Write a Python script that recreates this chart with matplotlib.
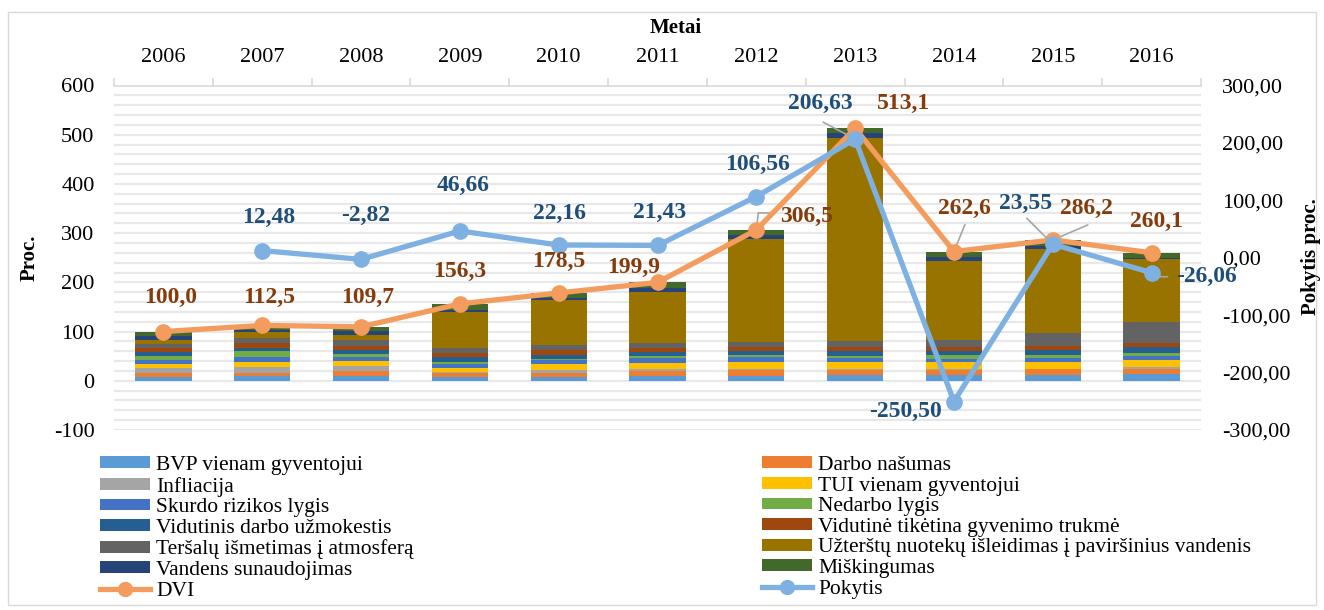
import matplotlib
matplotlib.use("Agg")
import matplotlib.pyplot as plt
import numpy as np
from matplotlib.patches import Rectangle, Patch
from matplotlib.lines import Line2D
from matplotlib.transforms import offset_copy

plt.rcParams['font.family'] = ['Liberation Serif', 'DejaVu Serif']

# ---------------- data ----------------
years = ['2006', '2007', '2008', '2009', '2010', '2011', '2012', '2013', '2014', '2015', '2016']

bvp      = [8.33, 8.8, 9.5, 7.5, 8.2, 10.2, 10.2, 11.6, 10.9, 12.2, 12.9]
darbo    = [8.33, 6.8, 9.5, 8.8, 8.2, 8.8, 10.9, 9.5, 11.6, 10.9, 10.9]
inflia   = [8.33, 11.6, 10.9, 1.5, 6.1, 5.4, 3.4, 2.0, 1.5, 1.0, 4.1]
tui      = [8.33, 11.6, 10.2, 8.8, 10.9, 12.2, 13.6, 15.0, 13.6, 15.0, 15.0]
skurdo   = [8.33, 8.8, 7.5, 8.2, 8.2, 8.8, 9.5, 8.2, 7.5, 6.8, 7.5]
nedarbo  = [8.33, 12.2, 6.8, 3.4, 3.4, 4.1, 4.8, 4.1, 6.8, 6.8, 6.8]
vdu      = [8.33, 7.5, 8.8, 9.5, 8.2, 8.2, 7.5, 9.5, 8.8, 10.2, 10.9]
gyv      = [8.33, 9.5, 8.2, 8.2, 9.5, 8.2, 8.8, 8.8, 8.2, 8.2, 8.2]
tersalu  = [8.33, 9.5, 10.9, 10.2, 10.2, 10.9, 10.9, 11.6, 13.6, 25.9, 43.5]
nuotek   = [8.33, 12.6, 11.1, 74.6, 90.7, 104.1, 207.8, 413.8, 161.7, 170.4, 127.7]
vandens  = [8.33, 4.8, 6.8, 4.0, 5.4, 6.8, 8.2, 8.8, 8.2, 6.8, 1.0]
misk     = [8.33, 8.8, 9.5, 11.6, 9.5, 12.2, 10.9, 10.2, 10.2, 12.0, 11.6]

dvi      = [100.0, 112.5, 109.7, 156.3, 178.5, 199.9, 306.5, 513.1, 262.6, 286.2, 260.1]
dvi_lbl  = ['100,0', '112,5', '109,7', '156,3', '178,5', '199,9', '306,5', '513,1', '262,6', '286,2', '260,1']
pok_x    = [1, 2, 3, 4, 5, 6, 7, 8, 9, 10]
pokytis  = [12.48, -2.82, 46.66, 22.16, 21.43, 106.56, 206.63, -250.50, 23.55, -26.06]
pok_lbl  = ['12,48', '-2,82', '46,66', '22,16', '21,43', '106,56', '206,63', '-250,50', '23,55', '-26,06']

series_names = ['BVP vienam gyventojui', 'Darbo našumas', 'Infliacija', 'TUI vienam gyventojui',
                'Skurdo rizikos lygis', 'Nedarbo lygis', 'Vidutinis darbo užmokestis',
                'Vidutinė tikėtina gyvenimo trukmė', 'Teršalų išmetimas į atmosferą',
                'Užterštų nuotekų išleidimas į paviršinius vandenis', 'Vandens sunaudojimas', 'Miškingumas']
series_vals = [bvp, darbo, inflia, tui, skurdo, nedarbo, vdu, gyv, tersalu, nuotek, vandens, misk]
series_cols = ['#5B9BD5', '#ED7D31', '#A5A5A5', '#FFC000', '#4472C4', '#70AD47', '#255E91',
               '#9E480E', '#636363', '#997300', '#264478', '#43682B']

DVI_COL = '#F39C5E'
POK_COL = '#7EB1E1'
DVI_TXT = '#843C0C'
POK_TXT = '#1F4E79'
LEAD = '#A6A6A6'

# ---------------- figure ----------------
W, H = 1324, 610
fig = plt.figure(figsize=(W / 100, H / 100), dpi=100)
fig.patches.append(Rectangle((8 / W, 1 - 605 / H), (1316 - 8) / W, (605 - 12) / H,
                             transform=fig.transFigure, fill=False, edgecolor='#D9D9D9', lw=1.0))

x0, x1, yt, yb = 114, 1201, 85.5, 430
ax = fig.add_axes([x0 / W, 1 - yb / H, (x1 - x0) / W, (yb - yt) / H])
ax.set_xlim(-0.5, 10.5)
ax.set_ylim(-100, 600)

for v in range(-100, 600, 20):
    ax.axhline(v, color='#E8E8E8', lw=1.6, zorder=0)

x = np.arange(len(years))
bottom = np.zeros(len(years))
bar_handles = []
for name, vals, col in zip(series_names, series_vals, series_cols):
    vals = np.array(vals)
    ax.bar(x, vals, width=0.57, bottom=bottom, color=col, linewidth=0, zorder=2)
    bottom += vals
    bar_handles.append(Patch(facecolor=col, edgecolor='none', label=name))

ax.plot(x, dvi, color=DVI_COL, lw=3.8, marker='o', ms=11, mfc=DVI_COL, mec=DVI_COL,
        zorder=4, solid_capstyle='round')

# axes styling
for s in ['left', 'right', 'bottom']:
    ax.spines[s].set_visible(False)
ax.spines['top'].set_color('#D9D9D9')
ax.spines['top'].set_linewidth(1.2)
ax.xaxis.tick_top()
ax.set_xticks(x)
ax.set_xticklabels(years, fontsize=16)
ax.set_xticks(np.arange(-0.5, 11, 1), minor=True)
ax.tick_params(axis='x', which='major', length=0, pad=13)
ax.tick_params(axis='x', which='minor', length=6, color='#D9D9D9', width=1.2, direction='out', top=True, bottom=False)
ax.set_yticks(range(-100, 601, 100))
ax.set_yticklabels([str(v) for v in range(-100, 601, 100)], fontsize=16)
ax.tick_params(axis='y', length=0, pad=14)

ax2 = ax.twinx()
ax2.set_ylim(-300, 300)
for s in ['left', 'right', 'bottom', 'top']:
    ax2.spines[s].set_visible(False)
rt = list(range(-300, 301, 100))
ax2.set_yticks(rt)
ax2.set_yticklabels([f"{v:.2f}".replace('.', ',') for v in rt], fontsize=16)
ax2.tick_params(axis='y', length=0, pad=15)

ax2.plot(pok_x, pokytis, color=POK_COL, lw=3.8, marker='o', ms=11, mfc=POK_COL, mec=POK_COL,
         zorder=5, solid_capstyle='round')

# ---------------- labels ----------------
def label(axis, xv, yv, text, dx, dy, color):
    axis.annotate(text, xy=(xv, yv), xytext=(dx, dy), textcoords='offset pixels',
                  ha='center', va='center', color=color, fontsize=17, fontweight='bold', zorder=6)

def leader(axis, xv, yv, pts):
    prev = (0, 0)
    for p in pts:
        tr = offset_copy(axis.transData, fig=fig, x=prev[0], y=prev[1], units='dots')
        axis.annotate('', xy=(xv, yv), xycoords=tr, xytext=(p[0] - prev[0], p[1] - prev[1]),
                      textcoords='offset pixels',
                      arrowprops=dict(arrowstyle='-', color=LEAD, lw=1.2, shrinkA=0, shrinkB=0),
                      zorder=3)
        prev = p

dvi_off = [(7, 34), (7, 28), (7, 29), (0, 32), (0, 31), (-24, 15), (50, 13), (48, 25), (10, 43), (34, 31), (5, 31)]
pok_off = [(6, 33), (5, 44), (3, 46), (1, 32), (2, 33), (1, 32), (-35, 36), (-48, -10), (-27, 41), (55, -4)]

for i in range(len(dvi)):
    label(ax2, x[i], (dvi[i] + 100) * 600 / 700 - 300, dvi_lbl[i], dvi_off[i][0], dvi_off[i][1], DVI_TXT)
for i in range(len(pokytis)):
    label(ax2, pok_x[i], pokytis[i], pok_lbl[i], pok_off[i][0], pok_off[i][1], POK_TXT)

# leader lines (in left-axis coordinates for DVI, right-axis for Pokytis)
leader(ax, 6, dvi[6], [(2, 17), (16, 17)])
leader(ax, 8, dvi[8], [(11, 27)])
leader(ax, 9, dvi[9], [(35, 15)])
leader(ax2, 7, pokytis[6], [(-32, 17)])
leader(ax2, 9, pokytis[8], [(-26, 26)])
leader(ax2, 10, pokytis[9], [(1, -4), (16, -4)])

# axis titles
fig.text(676 / W, 1 - 28 / H, 'Metai', ha='center', va='center', fontsize=15, fontweight='bold')
fig.text(30 / W, 1 - 258 / H, 'Proc.', ha='center', va='center', rotation=90, fontsize=15, fontweight='bold')
fig.text(1311 / W, 1 - 257 / H, 'Pokytis proc.', ha='center', va='center', rotation=90, fontsize=15, fontweight='bold')

# ---------------- legend ----------------
dvi_h = Line2D([], [], color=DVI_COL, lw=3.8, marker='o', ms=10, mfc=DVI_COL, mec=DVI_COL, label='DVI')
pok_h = Line2D([], [], color=POK_COL, lw=3.8, marker='o', ms=10, mfc=POK_COL, mec=POK_COL, label='Pokytis')
left_h = [bar_handles[i] for i in (0, 2, 4, 6, 8, 10)] + [dvi_h]
right_h = [bar_handles[i] for i in (1, 3, 5, 7, 9, 11)] + [pok_h]

leg_kw = dict(frameon=False, fontsize=15.5, borderpad=0, borderaxespad=0, handlelength=2.3,
              handleheight=0.47, handletextpad=0.3, labelspacing=0.075)
leg1 = fig.legend(handles=left_h, loc='upper left', bbox_to_anchor=(100 / W, 1 - 456 / H), **leg_kw)
leg2 = fig.legend(handles=right_h, loc='upper left', bbox_to_anchor=(762 / W, 1 - 456 / H), **leg_kw)

fig.savefig('out.png', dpi=100)
